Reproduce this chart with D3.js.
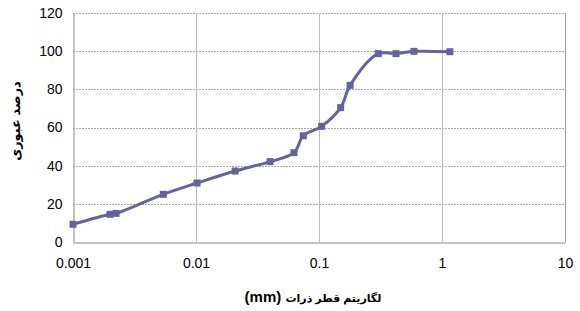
<!DOCTYPE html>
<html>
<head>
<meta charset="utf-8">
<script src="https://cdn.jsdelivr.net/npm/d3@7"></script>
<style>
  body { margin: 0; background: #fff; }
  svg text { font-family: Arial, "Liberation Sans", "DejaVu Sans", sans-serif; }
</style>
</head>
<body>
<svg id="chart" width="580" height="311"></svg>
<script>
// particle size (mm) and percent passing
const sizes = [0.001, 0.002, 0.00224, 0.00542, 0.0102, 0.0208, 0.04, 0.0626, 0.0745, 0.105, 0.15, 0.179, 0.303, 0.423, 0.592, 1.16];
const passing = [9.3, 14.5, 15.0, 25.0, 30.9, 37.2, 42.1, 46.8, 55.7, 60.6, 70.4, 82.1, 98.7, 98.7, 99.9, 99.7];
const xTicks = [0.001, 0.01, 0.1, 1, 10];
const xTickLabels = ["0.001", "0.01", "0.1", "1", "10"];
const yTicks = [0, 20, 40, 60, 80, 100, 120];

const xTitle = "لگاریتم قطر ذرات";
const xUnit = " (mm)";
const yTitle = "درصد عبوری";

const margin = { top: 13, right: 15, bottom: 69, left: 73 };
const width = 580;
const height = 311;
const innerW = width - margin.left - margin.right;
const innerH = height - margin.top - margin.bottom;

const svg = d3.select("#chart");
const g = svg.append("g").attr("transform", `translate(${margin.left},${margin.top})`);

const x = d3.scaleLog().domain([0.001, 10]).range([0, innerW]);
const y = d3.scaleLinear().domain([0, 120]).range([innerH, 0]);

// horizontal gridlines
g.append("g")
  .selectAll("line")
  .data(yTicks.filter((d) => d > 0))
  .join("line")
  .attr("x1", 0)
  .attr("x2", innerW)
  .attr("y1", (d) => Math.round(y(d)) + 0.5)
  .attr("y2", (d) => Math.round(y(d)) + 0.5)
  .attr("stroke", "#a8a8a8")
  .attr("stroke-dasharray", "2,1");

// vertical gridlines
g.append("g")
  .selectAll("line")
  .data(xTicks.slice(1))
  .join("line")
  .attr("x1", (d) => Math.round(x(d)) + 0.5)
  .attr("x2", (d) => Math.round(x(d)) + 0.5)
  .attr("y1", 0)
  .attr("y2", innerH)
  .attr("stroke", (d, i) => (i === xTicks.length - 2 ? "#a0a0a0" : "#bdbdbd"));

// axes
const xAxis = g.append("g")
  .attr("transform", `translate(0,${Math.round(innerH) + 0.5})`)
  .call(d3.axisBottom(x).tickValues(xTicks).tickFormat((d, i) => xTickLabels[i]).tickSize(0).tickPadding(16));
const yAxis = g.append("g")
  .attr("transform", "translate(0.5,0)")
  .call(d3.axisLeft(y).tickValues(yTicks).tickSize(0).tickPadding(11));

[xAxis, yAxis].forEach((axis) => {
  axis.select(".domain").attr("stroke", "#888");
  axis.selectAll("text").attr("font-size", 14).attr("fill", "#000").attr("font-family", "Arial, 'Liberation Sans', sans-serif");
});

// data line
const points = sizes.map((s, i) => [s, passing[i]]);
const line = d3.line()
  .x((d) => x(d[0]))
  .y((d) => y(d[1]))
  .curve(d3.curveCatmullRom.alpha(0.5));

g.append("path")
  .datum(points)
  .attr("fill", "none")
  .attr("stroke", "#63639d")
  .attr("stroke-width", 3)
  .attr("d", line);

g.append("g")
  .selectAll("rect")
  .data(points)
  .join("rect")
  .attr("x", (d) => x(d[0]) - 3.5)
  .attr("y", (d) => y(d[1]) - 3.5)
  .attr("width", 7)
  .attr("height", 7)
  .attr("fill", "#63639d");

// titles
const xt = svg.append("text")
  .attr("x", 313)
  .attr("y", 302)
  .attr("text-anchor", "middle")
  .attr("direction", "rtl")
  .attr("font-weight", "bold");
xt.append("tspan").attr("font-size", 11).text(xTitle);
xt.append("tspan").attr("font-size", 15).text(xUnit);

svg.append("text")
  .attr("transform", "translate(20,121) rotate(-90)")
  .attr("text-anchor", "middle")
  .attr("direction", "rtl")
  .attr("font-size", 13)
  .attr("font-weight", "bold")
  .text(yTitle);
</script>
</body>
</html>
